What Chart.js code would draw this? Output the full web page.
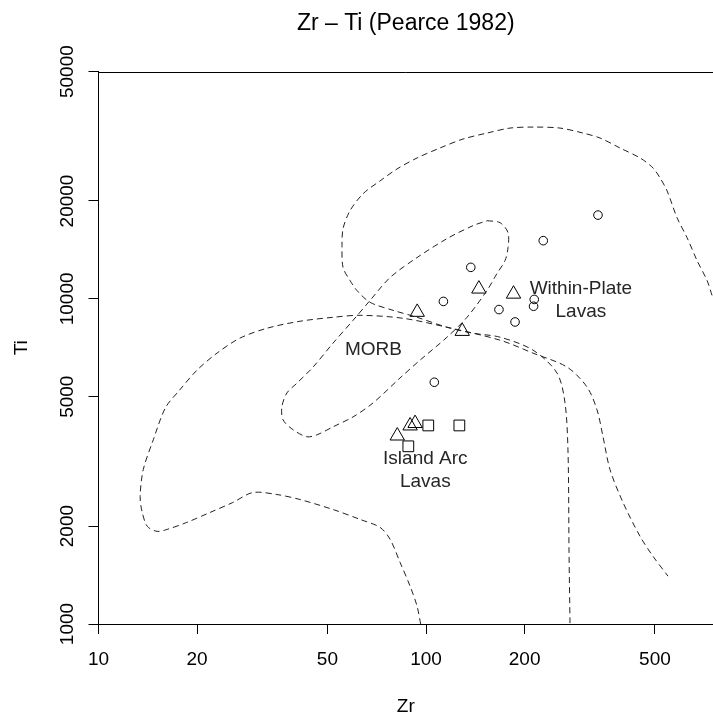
<!DOCTYPE html>
<html>
<head>
<meta charset="utf-8">
<script src="https://cdn.jsdelivr.net/npm/chart.js@4.4.1/dist/chart.umd.min.js"></script>
<style>
  html, body { margin: 0; padding: 0; background: #fff; }
  #myChart { display: block; }
</style>
</head>
<body>
<canvas id="myChart" width="713" height="717"></canvas>
<script>
var zrTicks = [10, 20, 50, 100, 200, 500];
var tiTicks = [1000, 2000, 5000, 10000, 20000, 50000];

// samples (ppm)
var circleZr = [335, 228, 137, 113, 167, 187, 214, 213, 106];
var circleTi = [18100, 15100, 12500, 9820, 9270, 8490, 9960, 9490, 5540];
var triangleZr = [94, 145, 185, 129, 92.6, 89.4, 81.7];
var triangleTi = [9100, 10730, 10350, 7950, 4140, 4070, 3790];
var squareZr = [101.6, 126.4, 88.3];
var squareTi = [4080, 4080, 3520];

// outer boundary (island arc + MORB)
var outerZr = [96.3, 93.9, 89.4, 83.3, 77.7, 72.4, 62.9, 52.0, 41.2, 35.1, 29.6, 25.7, 21.9, 18.6, 16.2, 15.1, 14.1, 13.6, 13.4, 13.7, 14.7, 16.0, 17.7, 20.0, 23.0, 27.0, 32.7, 41.2, 52.0, 62.9, 85.1, 115.9, 168.3, 212.2, 269.5, 310.1, 332.8, 347.1, 364.6, 399.5, 450.3, 493.3, 548.2];
var outerTi = [1000, 1135, 1307, 1548, 1821, 1982, 2097, 2250, 2415, 2501, 2537, 2364, 2203, 2053, 1954, 1927, 1996, 2203, 2466, 2984, 3686, 4620, 5246, 6040, 6809, 7568, 8122, 8533, 8777, 8901, 8715, 8179, 7463, 6809, 6169, 5357, 4555, 3765, 2984, 2364, 1860, 1615, 1403];

// within-plate field
var wplZr = [746.9, 721.2, 672.2, 626.5, 584.0, 544.4, 518.2, 493.3, 450.3, 391.1, 339.9, 301.5, 256.5, 212.2, 180.5, 153.6, 129.7, 110.3, 93.9, 81.6, 72.4, 64.2, 58.6, 55.8, 55.4, 55.8, 58.6, 61.5, 67.5, 79.3, 93.9, 115.9, 139.1, 168.3, 212.2, 251.2, 265.7, 271.4, 273.3, 275.2];
var wplTi = [10250, 11393, 13119, 15430, 17767, 21494, 23559, 25280, 27126, 29108, 31236, 32357, 33517, 33755, 33517, 32357, 31014, 29108, 27126, 25101, 23064, 21044, 18667, 16442, 14583, 12488, 11393, 10618, 9756, 9222, 8777, 8179, 7840, 7623, 6955, 5913, 4785, 3363, 1662, 1000];

// MORB field
var morbZr = [153.6, 168.3, 178.0, 178.0, 174.3, 164.7, 153.6, 133.4, 115.9, 95.9, 83.3, 68.9, 59.9, 52.0, 46.5, 43.3, 39.3, 36.6, 36.3, 37.6, 40.4, 45.2, 52.0, 59.9, 67.5, 77.7, 93.9, 115.9, 139.1, 153.6];
var morbTi = [17394, 17152, 15984, 14379, 13119, 11968, 10618, 8777, 7623, 6481, 5709, 4785, 4336, 4040, 3819, 3765, 3956, 4245, 4652, 5135, 5511, 6169, 7307, 8593, 9895, 11636, 13400, 15320, 16792, 17394];

var fieldNames = [['Within-Plate', 'Lavas'], ['MORB'], ['Island Arc', 'Lavas']];
var fieldZr = [297, 69.1, 99.5];
var fieldTi = [9890, 6950, 2970];

var FONT = '"Liberation Sans", Arial, sans-serif';

function pairs(xs, ys) {
  return xs.map(function(v, i) { return { x: v, y: ys[i] }; });
}

function boundary(xs, ys) {
  return {
    data: pairs(xs, ys),
    showLine: true,
    borderColor: '#222',
    borderWidth: 1,
    borderDash: [6, 4],
    pointRadius: 0,
    tension: 0.3,
    fill: false
  };
}

function samples(xs, ys, style, r) {
  return {
    data: pairs(xs, ys),
    pointStyle: style,
    pointRadius: r,
    borderColor: '#000',
    borderWidth: 1,
    backgroundColor: 'rgba(0,0,0,0)'
  };
}

// field names + top frame line
var fieldText = {
  id: 'fieldText',
  afterDatasetsDraw: function(chart) {
    var ctx = chart.ctx, sx = chart.scales.x, sy = chart.scales.y, area = chart.chartArea;
    ctx.save();
    ctx.font = '19px ' + FONT;
    ctx.fillStyle = '#262626';
    ctx.textAlign = 'center';
    ctx.textBaseline = 'middle';
    fieldNames.forEach(function(lines, i) {
      var px = sx.getPixelForValue(fieldZr[i]);
      var py = sy.getPixelForValue(fieldTi[i]);
      lines.forEach(function(s, k) {
        ctx.fillText(s, px, py + (k - (lines.length - 1) / 2) * 23.5);
      });
    });
    ctx.strokeStyle = '#000';
    ctx.lineWidth = 1;
    var top = Math.round(area.top) + 0.5;
    ctx.beginPath();
    ctx.moveTo(area.left, top);
    ctx.lineTo(area.right, top);
    ctx.stroke();
    ctx.restore();
  }
};

var config = {
  type: 'scatter',
  data: {
    datasets: [
      boundary(outerZr, outerTi),
      boundary(wplZr, wplTi),
      boundary(morbZr, morbTi),
      samples(circleZr, circleTi, 'circle', 4.3),
      samples(triangleZr, triangleTi, 'triangle', 8.3),
      samples(squareZr, squareTi, 'rect', 7.6)
    ]
  },
  options: {
    responsive: false,
    animation: false,
    devicePixelRatio: 1,
    layout: { padding: 0, autoPadding: false },
    plugins: {
      legend: { display: false },
      tooltip: { enabled: false },
      title: {
        display: true,
        fullSize: false,
        text: 'Zr \u2013 Ti (Pearce 1982)',
        color: '#000',
        font: { family: FONT, size: 23, weight: 'normal' },
        padding: { top: 10, bottom: 34 }
      }
    },
    scales: {
      x: {
        type: 'logarithmic',
        position: 'bottom',
        min: 10,
        max: 752,
        afterBuildTicks: function(s) { s.ticks = zrTicks.map(function(v) { return { value: v }; }); },
        afterFit: function(s) { s.height = 93; s.paddingLeft = 0; s.paddingRight = 0; },
        border: { display: true, color: '#000', width: 1 },
        grid: { display: true, drawOnChartArea: false, drawTicks: true, tickLength: 10, color: '#000' },
        ticks: {
          autoSkip: false, maxRotation: 0, padding: 14, color: '#000',
          font: { family: FONT, size: 19 },
          callback: function(v) { return String(v); }
        },
        title: { display: true, text: 'Zr', color: '#000', font: { family: FONT, size: 19 }, padding: { top: 0, bottom: -1 } }
      },
      y: {
        type: 'logarithmic',
        position: 'left',
        min: 1000,
        max: 50000,
        afterBuildTicks: function(s) { s.ticks = tiTicks.map(function(v) { return { value: v }; }); },
        afterFit: function(s) { s.width = 98.5; },
        border: { display: true, color: '#000', width: 1 },
        grid: { display: true, drawOnChartArea: false, drawTicks: true, tickLength: 10, color: '#000' },
        ticks: {
          autoSkip: false, minRotation: 90, maxRotation: 90, crossAlign: 'center', padding: -6, color: '#000',
          font: { family: FONT, size: 19 },
          callback: function(v) { return String(v); }
        },
        title: { display: true, text: 'Ti', color: '#000', font: { family: FONT, size: 19 }, padding: { top: 10, bottom: 0 } }
      }
    }
  },
  plugins: [fieldText]
};

var ctx = document.getElementById('myChart').getContext('2d');
var myChart = new Chart(ctx, config);
</script>
</body>
</html>
